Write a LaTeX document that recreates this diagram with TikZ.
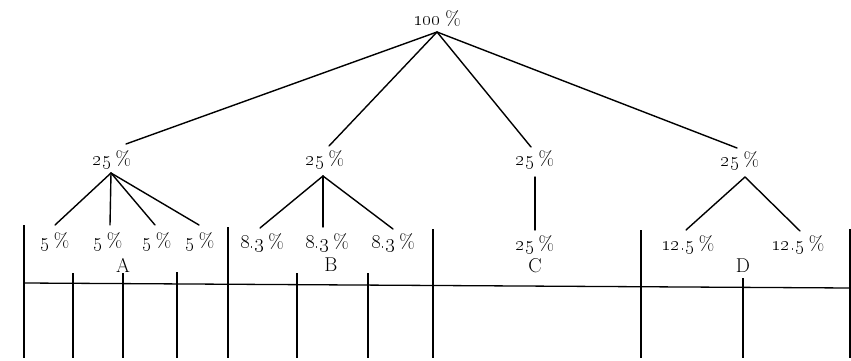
\RequirePackage{fix-cm}
\documentclass[tikz,border=0pt]{standalone}
\newcommand\pcval[1]{\oldstylenums{#1}\hspace{4pt}\%}
\tikzset{
  lbl/.style={inner sep=0pt, font=\fontsize{20}{22}\selectfont},
  ln/.style={line width=1.4pt, line cap=round},
  grid/.style={line width=1.3pt}
}
\begin{document}
\begin{tikzpicture}[x=1pt,y=-1pt]
\useasboundingbox (0,0) rectangle (851,361);
% top
\node[lbl] (top) at (437,19) {\pcval{100}};
\coordinate (apex) at (437,32);
% level 1 labels
\node[lbl] (lA) at (112,160) {\pcval{25}};
\node[lbl] (lB) at (325,160) {\pcval{25}};
\node[lbl] (lC) at (535,160) {\pcval{25}};
\node[lbl] (lD) at (740,161) {\pcval{25}};
\coordinate (iA) at (126,144);
\coordinate (iB) at (329,146);
\coordinate (iC) at (531,147);
\coordinate (iD) at (737,148);
\coordinate (oA) at (111,173);
\coordinate (oB) at (323,176);
\coordinate (oC) at (535,177);
\coordinate (oD) at (745,177);
\draw[ln] (apex) -- (iA);
\draw[ln] (apex) -- (iB);
\draw[ln] (apex) -- (iC);
\draw[ln] (apex) -- (iD);
% level 2 A
\node[lbl] (a1) at (55,242) {\pcval{5}};
\node[lbl] (a2) at (108,242) {\pcval{5}};
\node[lbl] (a3) at (157,242) {\pcval{5}};
\node[lbl] (a4) at (200,242) {\pcval{5}};
\coordinate (ta1) at (55,225);
\coordinate (ta2) at (110,225);
\coordinate (ta3) at (155,225);
\coordinate (ta4) at (199,225);
\draw[ln] (oA) -- (ta1);
\draw[ln] (oA) -- (ta2);
\draw[ln] (oA) -- (ta3);
\draw[ln] (oA) -- (ta4);
% level 2 B
\node[lbl] (b1) at (262,243) {\pcval{8.3}};
\node[lbl] (b2) at (327,243) {\pcval{8.3}};
\node[lbl] (b3) at (393,243) {\pcval{8.3}};
\coordinate (tb1) at (260,228);
\coordinate (tb2) at (323,227);
\coordinate (tb3) at (393,229);
\draw[ln] (oB) -- (tb1);
\draw[ln] (oB) -- (tb2);
\draw[ln] (oB) -- (tb3);
% level 2 C
\node[lbl] (c1) at (535,245) {\pcval{25}};
\coordinate (tc1) at (535,230);
\draw[ln] (oC) -- (tc1);
% level 2 D
\node[lbl] (d1) at (688,245) {\pcval{12.5}};
\node[lbl] (d2) at (798,245) {\pcval{12.5}};
\coordinate (td1) at (686,230);
\coordinate (td2) at (800,231);
\draw[ln] (oD) -- (td1);
\draw[ln] (oD) -- (td2);
% letters
\node[lbl] (A) at (123,265) {A};
\node[lbl] (B) at (331,265) {B};
\node[lbl] (C) at (535,266) {C};
\node[lbl] (D) at (743,266) {D};
% grid
\draw[grid] (24,283) -- (850,288);
\foreach \x/\y in {24/225, 228/227, 433/229, 641/230, 850/229}
  \draw[grid] (\x,\y) -- (\x,358);
\foreach \x/\y in {73/273, 123/273, 177/272, 297/273, 368/273, 743/278}
  \draw[grid] (\x,\y) -- (\x,358);
\end{tikzpicture}
\end{document}
